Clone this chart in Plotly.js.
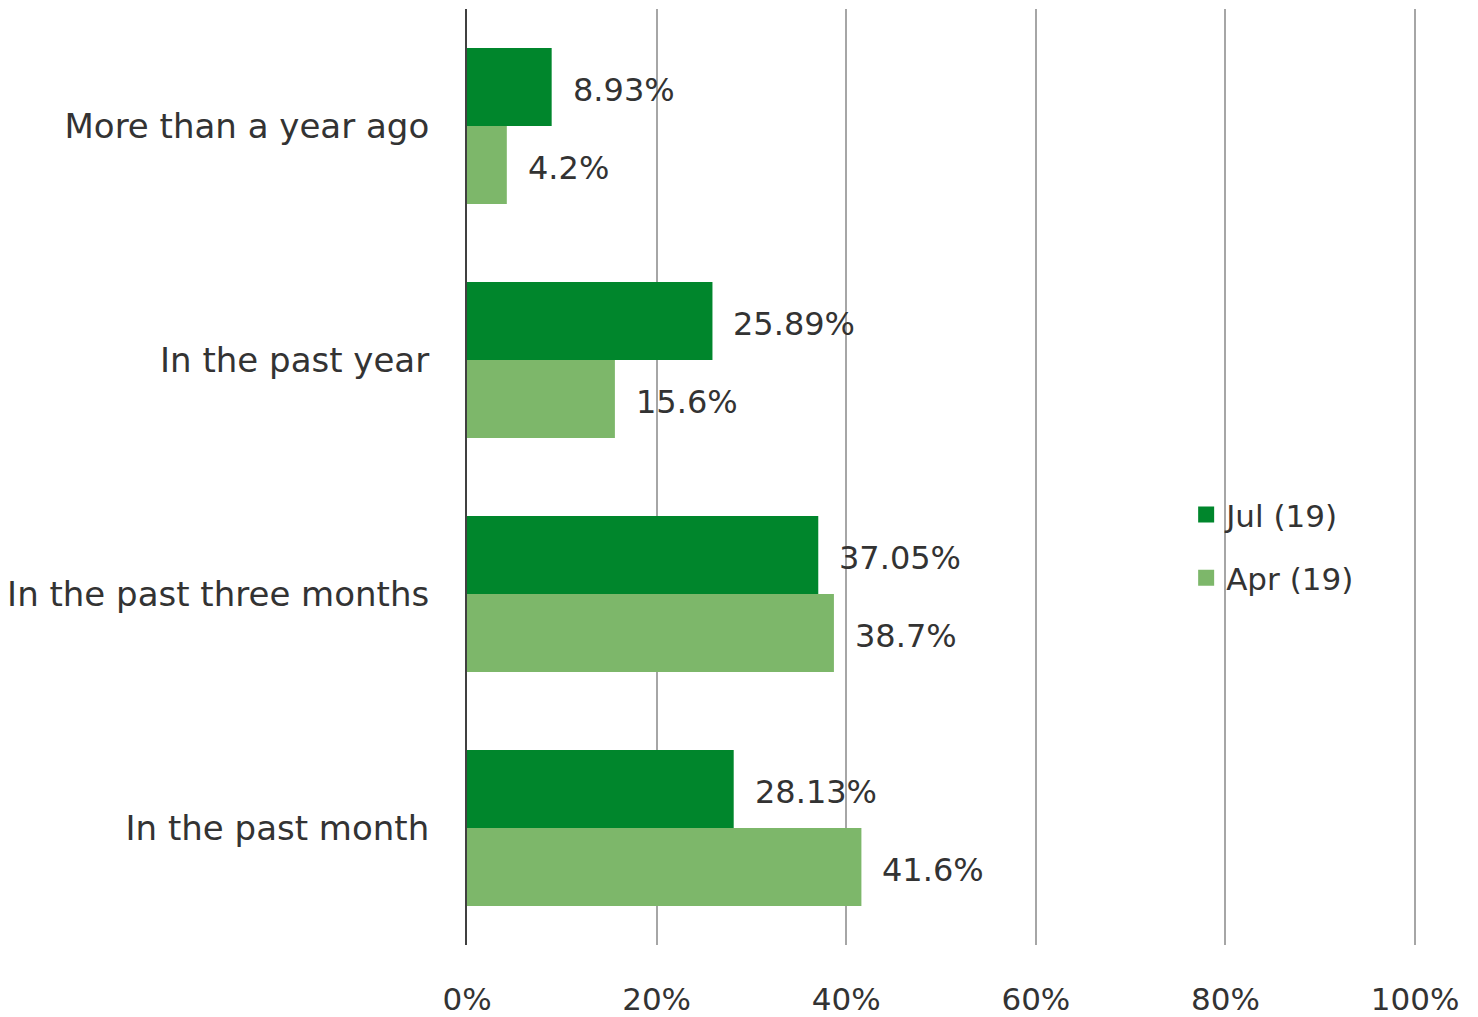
<!DOCTYPE html>
<html><head><meta charset="utf-8">
<script src="https://cdn.plot.ly/plotly-3.0.1.min.js"></script>
<style>html,body{margin:0;padding:0;background:#fff}#chart{width:1478px;height:1017px}</style>
</head><body><div id="chart"></div>
<script>
const categories = ["In the past month", "In the past three months", "In the past year", "More than a year ago"];
const julValues = [28.13, 37.05, 25.89, 8.93];
const aprValues = [41.6, 38.7, 15.6, 4.2];
const julLabels = ["28.13%", "37.05%", "25.89%", "8.93%"];
const aprLabels = ["41.6%", "38.7%", "15.6%", "4.2%"];
const seriesNames = ["Jul (19)", "Apr (19)"];
const tickVals = [0, 20, 40, 60, 80, 100];
const tickText = ["0%", "20%", "40%", "60%", "80%", "100%"];

const font = "'DejaVu Sans', sans-serif";
const txt = "#333333";
const julColor = "#00862c";
const aprColor = "#7db76a";

const traces = [
  {type: "bar", orientation: "h", name: seriesNames[1], y: categories, x: aprValues,
   marker: {color: aprColor}, hoverinfo: "skip", showlegend: false},
  {type: "bar", orientation: "h", name: seriesNames[0], y: categories, x: julValues,
   marker: {color: julColor}, hoverinfo: "skip", showlegend: false},
  {type: "scatter", mode: "markers", name: seriesNames[0], x: [null], y: [null], legendgroup: "a",
   marker: {symbol: "square", size: 22, color: julColor}},
  {type: "scatter", mode: "markers", name: seriesNames[1], x: [null], y: [null], legendgroup: "b",
   marker: {symbol: "square", size: 22, color: aprColor}}
];

const annotations = [];
categories.forEach((c, i) => {
  annotations.push({x: julValues[i], y: c, text: julLabels[i], xanchor: "left", yanchor: "middle",
    xshift: 19, yshift: 36, showarrow: false, font: {family: font, size: 32, color: txt}});
  annotations.push({x: aprValues[i], y: c, text: aprLabels[i], xanchor: "left", yanchor: "middle",
    xshift: 19, yshift: -42, showarrow: false, font: {family: font, size: 32, color: txt}});
});

const layout = {
  width: 1478, height: 1017,
  margin: {l: 467, r: 61, t: 9, b: 72, pad: 0},
  paper_bgcolor: "#fff", plot_bgcolor: "#fff",
  barmode: "group", bargap: 1/3, bargroupgap: 0,
  font: {family: font, color: txt},
  xaxis: {range: [0, 100.2], tickvals: tickVals, ticktext: tickText,
    showgrid: true, gridcolor: "#a6a6a6", gridwidth: 2, zeroline: false,
    showline: false, ticks: "outside", ticklen: 0, ticklabelstandoff: 27,
    tickfont: {family: font, size: 31, color: txt}, fixedrange: true},
  yaxis: {showgrid: false, zeroline: false, showline: true, linecolor: "#404040", linewidth: 2,
    ticks: "", ticklabelstandoff: 29, tickfont: {family: font, size: 34, color: txt},
    range: [-0.5, 3.5], fixedrange: true},
  showlegend: true,
  legend: {x: 0.757, xanchor: "left", y: 0.426, yanchor: "middle", traceorder: "grouped",
    font: {family: font, size: 31, color: txt}, bgcolor: "rgba(0,0,0,0)",
    itemsizing: "trace", tracegroupgap: 20},
  annotations: annotations
};

Plotly.newPlot("chart", traces, layout, {displayModeBar: false, staticPlot: true});
</script></body></html>
